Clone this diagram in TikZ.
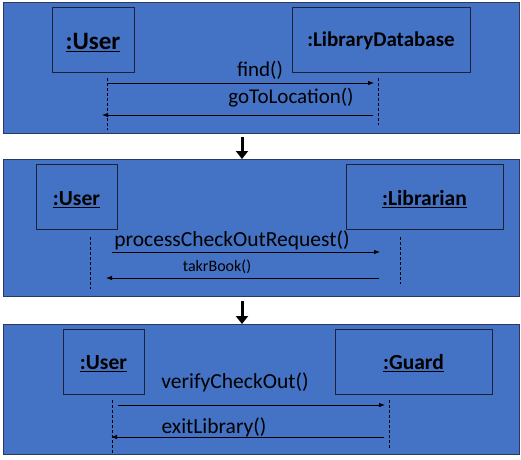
\documentclass[tikz,border=0pt]{standalone}
\usepackage{fontspec}
\setmainfont{Carlito}
\usetikzlibrary{arrows.meta}
\definecolor{panelblue}{HTML}{4472C4}
\definecolor{panelline}{HTML}{2A3A5C}
\definecolor{boxline}{HTML}{1A2233}
\newcommand{\lowerby}[2]{\raisebox{-#1}[\height][\depth]{#2}}
\tikzset{
  panel/.style={fill=panelblue, draw=panelline, line width=1pt},
  objbox/.style={draw=boxline, line width=0.9pt, rectangle, inner sep=0pt, font=\bfseries},
  life/.style={draw=black, dashed, dash pattern=on 3pt off 2pt, line width=0.6pt},
  msg/.style={draw=black, line width=0.8pt, -{Latex[length=6pt,width=4.5pt]}},
  lbl/.style={inner sep=0pt, anchor=center},
  flow/.style={draw=black, line width=3pt, -{Triangle[length=8pt,width=12pt]}}
}
\begin{document}
\begin{tikzpicture}[x=1pt,y=-1pt]
\useasboundingbox (0,0) rectangle (521,459);
% panels
\path[panel] (3,2) rectangle (519,133);
\path[panel] (3,159) rectangle (519,296);
\path[panel] (3,324) rectangle (519,454);
% panel 1
\node[objbox, minimum width=82pt, minimum height=65pt, font=\bfseries\fontsize{25}{28}\selectfont] (u1) at (93,39.5) {\lowerby{3pt}{\underline{:User}}};
\node[objbox, minimum width=178pt, minimum height=65pt, font=\bfseries\fontsize{21}{24}\selectfont] (db) at (381,39.5) {\lowerby{1.5pt}{:LibraryDatabase}};
\coordinate (u1a) at (107,78); \coordinate (u1b) at (107,130);
\coordinate (dba) at (378,78); \coordinate (dbb) at (378,125);
\path[life] (u1a) -- (u1b);
\path[life] (dba) -- (dbb);
\coordinate (m1s) at (107,83); \coordinate (m1e) at (374,83);
\coordinate (m2s) at (373,115); \coordinate (m2e) at (102,115);
\path[msg] (m1s) -- (m1e);
\path[msg] (m2s) -- (m2e);
\node[lbl, font=\fontsize{21}{24}\selectfont] (l1) at (260,70) {find()};
\node[lbl, font=\fontsize{21}{24}\selectfont] (l2) at (291,98) {goToLocation()};
% flow arrow 1
\coordinate (f1a) at (242,137); \coordinate (f1b) at (242,159);
\path[flow] (f1a) -- (f1b);
% panel 2
\node[objbox, minimum width=81pt, minimum height=65pt, font=\bfseries\fontsize{21.5}{25}\selectfont] (u2) at (76.5,196.5) {\lowerby{3pt}{\underline{:User}}};
\node[objbox, minimum width=157pt, minimum height=65pt, font=\bfseries\fontsize{21.5}{25}\selectfont] (lib) at (424.5,196.5) {\lowerby{3pt}{\underline{:Librarian}}};
\coordinate (u2a) at (90,237); \coordinate (u2b) at (90,289);
\coordinate (liba) at (400,237); \coordinate (libb) at (400,284);
\path[life] (u2a) -- (u2b);
\path[life] (liba) -- (libb);
\coordinate (m3s) at (112,252); \coordinate (m3e) at (380,252);
\coordinate (m4s) at (379,278); \coordinate (m4e) at (106,278);
\path[msg] (m3s) -- (m3e);
\path[msg] (m4s) -- (m4e);
\node[lbl, font=\fontsize{21.5}{25}\selectfont] (l3) at (232,240) {processCheckOutRequest()};
\node[lbl, font=\fontsize{16}{19}\selectfont] (l4) at (217,267) {takrBook()};
% flow arrow 2
\coordinate (f2a) at (242,301); \coordinate (f2b) at (242,324);
\path[flow] (f2a) -- (f2b);
% panel 3
\node[objbox, minimum width=81pt, minimum height=65pt, font=\bfseries\fontsize{21.5}{25}\selectfont] (u3) at (103.5,361.5) {\lowerby{2pt}{\underline{:User}}};
\node[objbox, minimum width=157pt, minimum height=65pt, font=\bfseries\fontsize{21.5}{25}\selectfont] (gd) at (413.5,361.5) {\lowerby{2pt}{\underline{:Guard}}};
\coordinate (u3a) at (112,400); \coordinate (u3b) at (112,454);
\coordinate (gda) at (389,400); \coordinate (gdb) at (389,448);
\path[life] (u3a) -- (u3b);
\path[life] (gda) -- (gdb);
\coordinate (m5s) at (118,405); \coordinate (m5e) at (385,405);
\coordinate (m6s) at (384,437); \coordinate (m6e) at (111,437);
\path[msg] (m5s) -- (m5e);
\path[msg] (m6s) -- (m6e);
\node[lbl, font=\fontsize{21.5}{25}\selectfont] (l5) at (235,382) {verifyCheckOut()};
\node[lbl, font=\fontsize{21.5}{25}\selectfont] (l6) at (214,427) {exitLibrary()};
\end{tikzpicture}
\end{document}
